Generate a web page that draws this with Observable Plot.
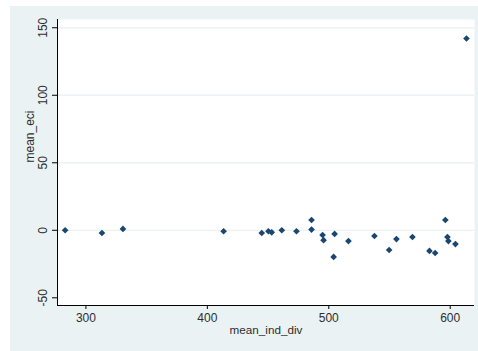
<!DOCTYPE html>
<html>
<head>
<meta charset="utf-8">
<script src="https://cdn.jsdelivr.net/npm/d3@7"></script>
<script src="https://cdn.jsdelivr.net/npm/@observablehq/plot@0.6"></script>
<style>
  html, body { margin: 0; padding: 0; background: #fff; }
  #wrap { position: relative; width: 478px; height: 351px; overflow: hidden; }
  #bg { position: absolute; left: 10px; top: 6px; right: 0; bottom: 0; background: #eaf2f3; }
  #chart { position: absolute; left: 0; top: 0; }
</style>
</head>
<body>
<div id="wrap"><div id="bg"></div><div id="chart"></div></div>
<script>
const meanIndDiv = [282.9, 313.2, 330.5, 413.4, 444.8, 450.3, 453.0, 461.3, 473.4, 485.8, 485.8, 494.9, 495.7, 504.8, 504.0, 516.2, 537.6, 549.7, 555.7, 568.9, 582.9, 587.6, 596.0, 597.7, 598.5, 604.3, 613.4];
const meanEci    = [0.0, -2.0, 1.0, -0.7, -2.0, -0.7, -1.5, 0.0, -0.7, 7.6, 0.5, -3.5, -7.3, -2.7, -19.7, -8.0, -4.2, -14.6, -6.5, -5.0, -15.3, -16.8, 7.6, -5.0, -8.0, -10.2, 142.0];
const xTicks = [300, 400, 500, 600];
const yTicks = [-50, 0, 50, 100, 150];
const yGrid = [0, 50, 100, 150];
const xDomain = [276.6, 620];
const yDomain = [-55.7, 156.1];
const xLabel = "mean_ind_div";
const yLabel = "mean_eci";

const data = meanIndDiv.map((x, i) => ({x, y: meanEci[i]}));
const font = "Liberation Sans, Arial, sans-serif";
const txt = "#2e2e2e";

const chart = Plot.plot({
  width: 478,
  height: 351,
  marginLeft: 57,
  marginTop: 19,
  marginRight: 4,
  marginBottom: 46,
  style: {background: "transparent", fontFamily: font, fontSize: "12px", color: txt},
  x: {domain: xDomain},
  y: {domain: yDomain},
  marks: [
    Plot.frame({fill: "white", stroke: null}),
    Plot.gridY(yGrid, {stroke: "#eaf2f3", strokeOpacity: 1, strokeWidth: 1.3}),
    Plot.axisY({ticks: yTicks, tickSize: 5, tickFormat: () => "", label: null, stroke: "#000"}),
    Plot.axisX({ticks: xTicks, tickSize: 4, tickPadding: 4, label: null, stroke: "#000", fill: txt, fontSize: 12}),
    Plot.text(yTicks, {y: d => d, text: d => String(d), frameAnchor: "left", dx: -14, rotate: -90, textAnchor: "middle", lineAnchor: "middle", fill: txt, fontSize: 12}),
    Plot.ruleY([yDomain[0]], {stroke: "#000", strokeWidth: 1}),
    Plot.ruleX([xDomain[0]], {stroke: "#000", strokeWidth: 1}),
    Plot.text([xLabel], {text: d => d, frameAnchor: "bottom", dy: 25, lineAnchor: "middle", fill: txt, fontSize: 11.7}),
    Plot.text([yLabel], {text: d => d, frameAnchor: "left", dx: -27, rotate: -90, lineAnchor: "middle", fill: txt, fontSize: 12}),
    Plot.dot(data, {x: "x", y: "y", symbol: "diamond2", r: 3, fill: "#1a476f", stroke: null})
  ]
});
document.getElementById("chart").appendChild(chart);
</script>
</body>
</html>
